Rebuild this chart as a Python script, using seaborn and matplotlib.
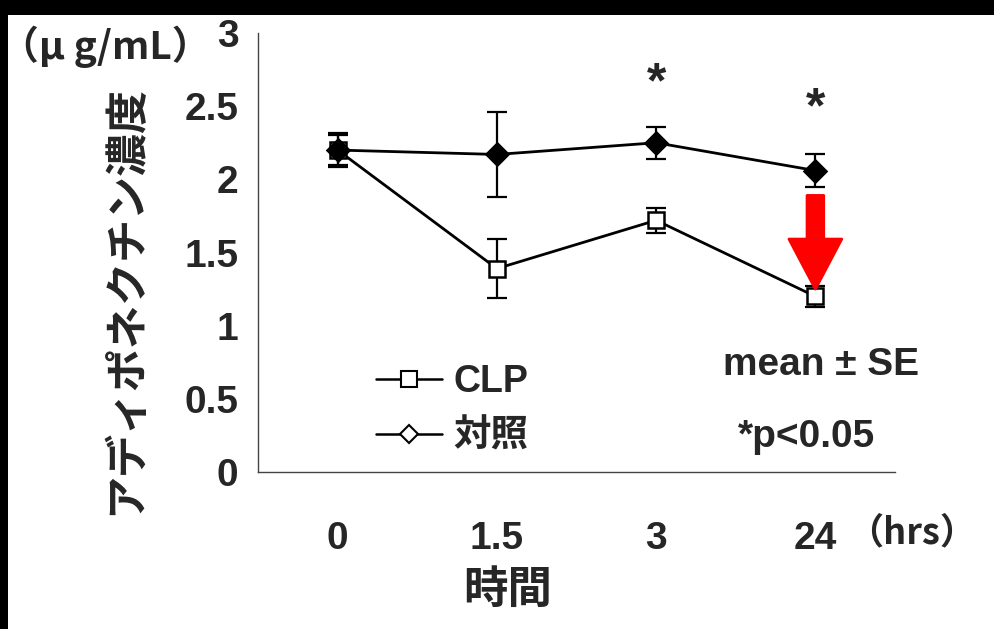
import numpy as np
import pandas as pd
import matplotlib
matplotlib.use("Agg")
import matplotlib.pyplot as plt
from matplotlib.lines import Line2D
from matplotlib.patches import FancyArrowPatch, Rectangle
import seaborn as sns

# ---- data -------------------------------------------------------------
time_labels = ["0", "1.5", "3", "24"]
clp_mean = [2.20, 1.39, 1.72, 1.20]
clp_se = [0.10, 0.20, 0.085, 0.07]
ctrl_mean = [2.20, 2.17, 2.25, 2.06]
ctrl_se = [0.115, 0.29, 0.11, 0.115]
series_names = ["CLP", "対照"]
sig_marks = [(2, 2.65), (3, 2.48)]   # (time index, height) of "*" marks

# ---- styling ----------------------------------------------------------
sns.set_theme(style="white")
LATIN = ["Liberation Sans", "Noto Sans CJK JP", "DejaVu Sans"]
CJK = ["Noto Sans CJK JP", "DejaVu Sans"]
plt.rcParams["font.family"] = LATIN
plt.rcParams["font.weight"] = "bold"

W, H = 995, 629
fig = plt.figure(figsize=(W / 100, H / 100), dpi=100)
ax = fig.add_axes([258 / W, 1 - 472 / H, (895 - 258) / W, (472 - 33) / H])

pos = np.arange(len(time_labels))
df = pd.DataFrame({
    "pos": np.concatenate([pos, pos]),
    "value": clp_mean + ctrl_mean,
    "group": [series_names[0]] * len(pos) + [series_names[1]] * len(pos),
})

sns.lineplot(data=df, x="pos", y="value", hue="group", style="group",
             palette={series_names[0]: "black", series_names[1]: "black"},
             markers={series_names[0]: "s", series_names[1]: "D"},
             dashes=False, linewidth=2.0, ax=ax, legend=False,
             markersize=11, markeredgewidth=1.8)

# open squares for CLP, filled diamonds for control
lines = ax.get_lines()
lines[0].set_markerfacecolor("white")
lines[0].set_markeredgecolor("black")
lines[0].set_zorder(3)
lines[1].set_markerfacecolor("black")
lines[1].set_markeredgecolor("black")
lines[1].set_zorder(4)

ax.errorbar(pos, clp_mean, yerr=clp_se, fmt="none", ecolor="black",
            elinewidth=1.6, capsize=7, capthick=1.6, zorder=2)
ax.errorbar(pos, ctrl_mean, yerr=ctrl_se, fmt="none", ecolor="black",
            elinewidth=1.6, capsize=7, capthick=1.6, zorder=2)

# ---- axes -------------------------------------------------------------
ax.set_xlim(-0.5, len(pos) - 0.5)
ax.set_ylim(0, 3)
ax.set_yticks([0, 0.5, 1, 1.5, 2, 2.5, 3])
ax.set_yticklabels(["0", "0.5", "1", "1.5", "2", "2.5", "3"], fontsize=28,
                   fontweight="bold")
ax.set_xticks(np.arange(-0.5, len(pos), 1.0))
ax.set_xticklabels([])
ax.tick_params(axis="both", direction="out", length=9, width=1.0,
               color="#444444", pad=5)
ax.tick_params(axis="x", length=13)
for side in ["top", "right"]:
    ax.spines[side].set_visible(False)
for side in ["left", "bottom"]:
    ax.spines[side].set_color("#444444")
    ax.spines[side].set_linewidth(1.0)
ax.set_xlabel("")
ax.set_ylabel("")

for p, lab in zip(pos, time_labels):
    ax.text(p, -0.46, lab, ha="center", va="center", fontsize=28,
            fontweight="bold", transform=ax.transData, clip_on=False)
fig.text(912 / W, 1 - 533 / H, "（hrs）", ha="center", va="center",
         fontsize=26, fontweight="bold", family=CJK)
fig.text(508 / W, 1 - 590 / H, "時間", ha="center", va="center",
         fontsize=32, fontweight="bold", family=CJK)
fig.text(125 / W, 1 - 300 / H, "アディポネクチン濃度", ha="center",
         va="center", rotation=90, fontsize=31, fontweight="bold", family=CJK)
fig.text(0 / W, 1 - 47 / H, "（μ g/mL）", ha="left", va="center",
         fontsize=28, fontweight="bold", family=CJK)

# significance marks
for p, yv in sig_marks:
    ax.text(p, yv, "*", ha="center", va="center", fontsize=36,
            fontweight="bold")

# red arrow pointing at the CLP 24 h value
arrow = FancyArrowPatch((3, 1.89), (3, clp_mean[3] + 0.05),
                        arrowstyle="simple,head_width=38,head_length=36,tail_width=12",
                        mutation_scale=1, color="red", linewidth=2,
                        joinstyle="round", shrinkA=0, shrinkB=0, zorder=5)
ax.add_patch(arrow)

# notes
fig.text(821 / W, 1 - 365 / H, "mean ± SE", ha="center", va="center",
         fontsize=28, fontweight="bold")
fig.text(807 / W, 1 - 437 / H, "*p<0.05", ha="center", va="center",
         fontsize=28, fontweight="bold")

# legend
handles = [
    Line2D([], [], color="black", lw=1.8, marker="s", markersize=11,
           markerfacecolor="white", markeredgecolor="black", markeredgewidth=1.5),
    Line2D([], [], color="black", lw=1.8, marker="D", markersize=9,
           markerfacecolor="white", markeredgecolor="black", markeredgewidth=1.5),
]
fig.legend(handles, series_names, loc="upper left",
           bbox_to_anchor=(350 / W, 1 - 338 / H), frameon=False,
           prop={"size": 27, "weight": "bold", "family": LATIN},
           handlelength=1.75, handletextpad=0.3, labelspacing=0.5,
           borderpad=0.2)

# black frame band along the top and left edges
fig.patches.append(Rectangle((0, 1 - 15 / H), 1, 15 / H, transform=fig.transFigure,
                             facecolor="black", edgecolor="none", zorder=10))
fig.patches.append(Rectangle((0, 0), 8 / W, 1, transform=fig.transFigure,
                             facecolor="black", edgecolor="none", zorder=10))

fig.savefig("out.png", dpi=100, facecolor="white")
